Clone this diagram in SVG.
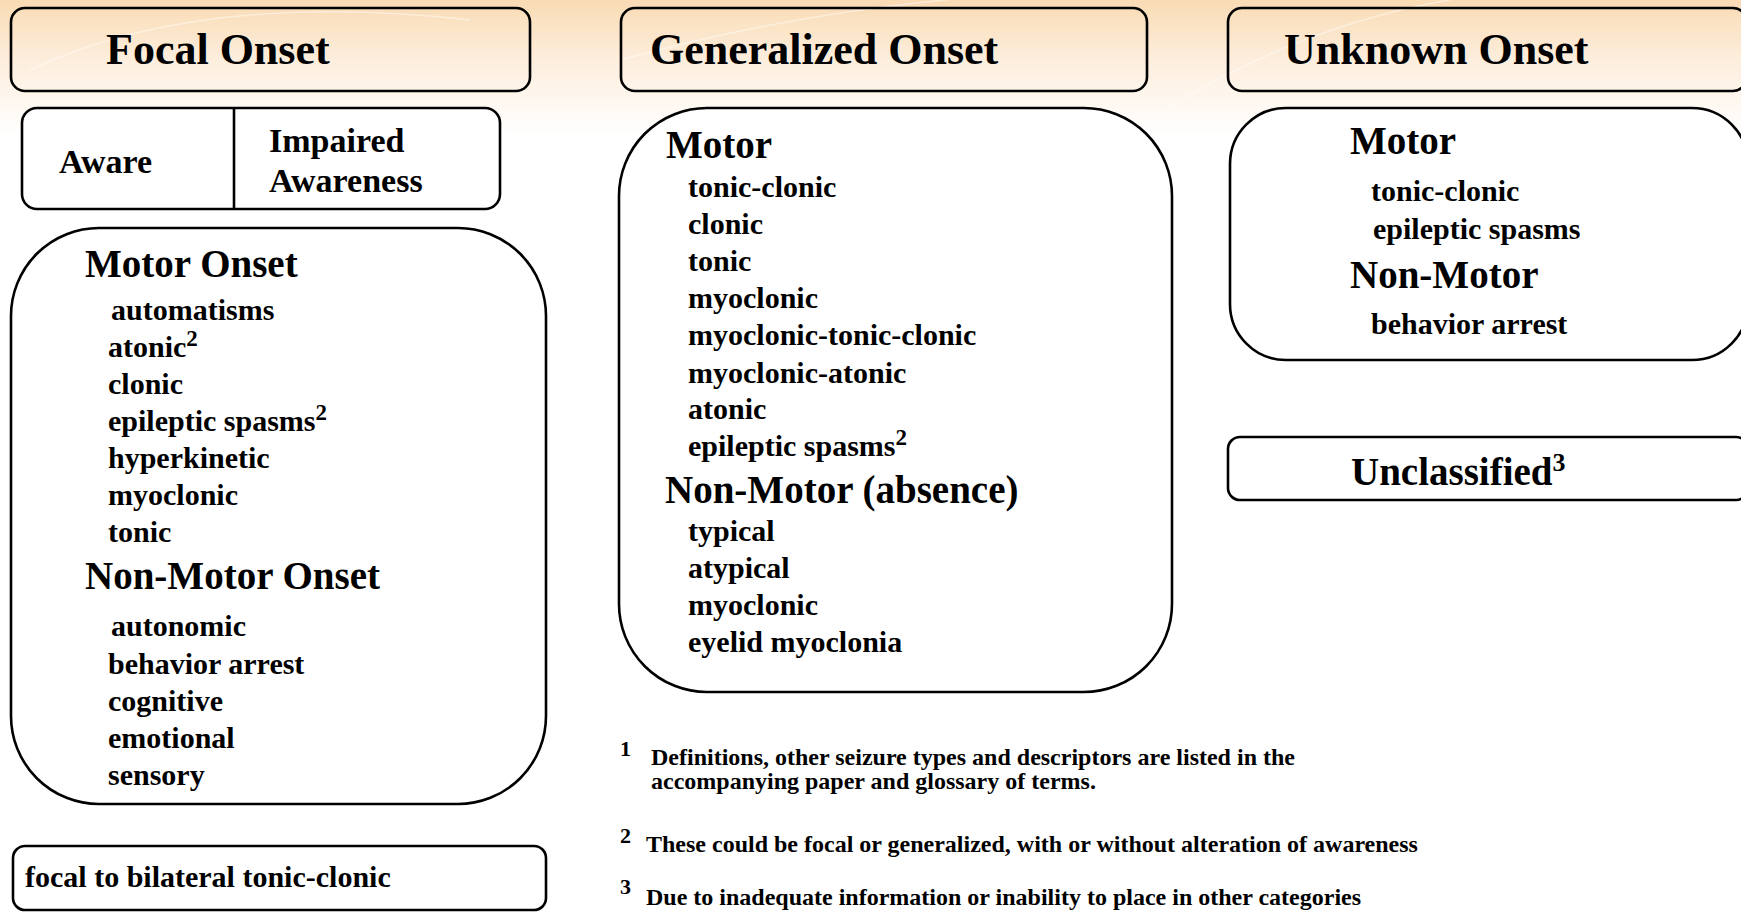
<svg xmlns="http://www.w3.org/2000/svg" width="1741" height="912" viewBox="0 0 1741 912">
<defs>
<linearGradient id="bg" x1="0" y1="0" x2="0" y2="1">
<stop offset="0" stop-color="#f9dbb4"/>
<stop offset="0.45" stop-color="#fdeedd"/>
<stop offset="1" stop-color="#ffffff"/>
</linearGradient>
<style>
text{font-family:"Liberation Serif","Times New Roman",serif;font-weight:bold;fill:#000}
.box{fill:none;stroke:#000;stroke-width:2.6}
.wbox{fill:#fff;stroke:#000;stroke-width:2.6}
.h1{font-size:44px}
.h2{font-size:39px}
.it{font-size:30px}
.aw{font-size:34px}
.fn{font-size:24px}
.fm{font-size:22px}
.sup{font-size:23px}
.arc{fill:none;stroke:#fff;stroke-opacity:0.45;stroke-width:1.5}
</style>
</defs>
<rect x="0" y="0" width="1741" height="912" fill="#fff"/>
<rect x="0" y="0" width="1741" height="135" fill="url(#bg)"/>
<path class="arc" d="M30 70 Q200 -10 470 20"/>
<path class="arc" d="M1150 120 Q1300 20 1480 -5"/>
<path class="arc" d="M620 60 Q800 10 1000 -5"/>

<g id="connectors"/>

<g id="focal-header">
<rect class="box" x="11" y="8" width="519" height="83" rx="14"/>
<text class="h1" x="106" y="64">Focal Onset</text>
</g>

<g id="awareness">
<rect class="wbox" x="22" y="108" width="478" height="101" rx="15"/>
<line x1="234" y1="108" x2="234" y2="209" stroke="#000" stroke-width="2.6"/>
<text class="aw" x="59" y="173">Aware</text>
<text class="aw" x="269" y="152">Impaired</text>
<text class="aw" x="269" y="192">Awareness</text>
</g>

<g id="focal-types">
<rect class="wbox" x="11" y="228" width="535" height="576" rx="88"/>
<text class="h2" x="85" y="277">Motor Onset</text>
<text class="it" x="111" y="320">automatisms</text>
<text class="it" x="108" y="357">atonic<tspan class="sup" dy="-11">2</tspan></text>
<text class="it" x="108" y="394">clonic</text>
<text class="it" x="108" y="431">epileptic spasms<tspan class="sup" dy="-11">2</tspan></text>
<text class="it" x="108" y="468">hyperkinetic</text>
<text class="it" x="108" y="505">myoclonic</text>
<text class="it" x="108" y="542">tonic</text>
<text class="h2" x="85" y="589">Non-Motor Onset</text>
<text class="it" x="111" y="636">autonomic</text>
<text class="it" x="108" y="674">behavior arrest</text>
<text class="it" x="108" y="711">cognitive</text>
<text class="it" x="108" y="748">emotional</text>
<text class="it" x="108" y="785">sensory</text>
</g>

<g id="focal-bilateral">
<rect class="wbox" x="13" y="846" width="533" height="64" rx="12"/>
<text class="it" x="25" y="887">focal to bilateral tonic-clonic</text>
</g>

<g id="generalized-header">
<rect class="box" x="621" y="8" width="526" height="83" rx="14"/>
<text class="h1" x="650" y="64">Generalized Onset</text>
</g>

<g id="generalized-types">
<rect class="wbox" x="619" y="108" width="553" height="584" rx="88"/>
<text class="h2" x="666" y="158">Motor</text>
<text class="it" x="688" y="197">tonic-clonic</text>
<text class="it" x="688" y="234">clonic</text>
<text class="it" x="688" y="271">tonic</text>
<text class="it" x="688" y="308">myoclonic</text>
<text class="it" x="688" y="345">myoclonic-tonic-clonic</text>
<text class="it" x="688" y="383">myoclonic-atonic</text>
<text class="it" x="688" y="419">atonic</text>
<text class="it" x="688" y="456">epileptic spasms<tspan class="sup" dy="-11">2</tspan></text>
<text class="h2" x="665" y="503">Non-Motor (absence)</text>
<text class="it" x="688" y="541">typical</text>
<text class="it" x="688" y="578">atypical</text>
<text class="it" x="688" y="615">myoclonic</text>
<text class="it" x="688" y="652">eyelid myoclonia</text>
</g>

<g id="unknown-header">
<rect class="box" x="1228" y="8" width="519" height="83" rx="14"/>
<text class="h1" x="1284" y="64">Unknown Onset</text>
</g>

<g id="unknown-types">
<rect class="wbox" x="1230" y="108" width="518" height="252" rx="56"/>
<text class="h2" x="1350" y="154">Motor</text>
<text class="it" x="1371" y="201">tonic-clonic</text>
<text class="it" x="1373" y="239">epileptic spasms</text>
<text class="h2" x="1350" y="288">Non-Motor</text>
<text class="it" x="1371" y="334">behavior arrest</text>
</g>

<g id="unclassified">
<rect class="wbox" x="1228" y="437" width="520" height="63" rx="12"/>
<text class="h2" x="1351" y="485">Unclassified<tspan font-size="26px" dy="-14">3</tspan></text>
</g>

<g id="footnotes">
<text class="fm" x="620" y="756">1</text>
<text class="fn" x="651" y="765">Definitions, other seizure types and descriptors are listed in the</text>
<text class="fn" x="651" y="789">accompanying paper and glossary of terms.</text>
<text class="fm" x="620" y="843">2</text>
<text class="fn" x="646" y="852">These could be focal or generalized, with or without alteration of awareness</text>
<text class="fm" x="620" y="894">3</text>
<text class="fn" x="646" y="905">Due to inadequate information or inability to place in other categories</text>
</g>
</svg>
